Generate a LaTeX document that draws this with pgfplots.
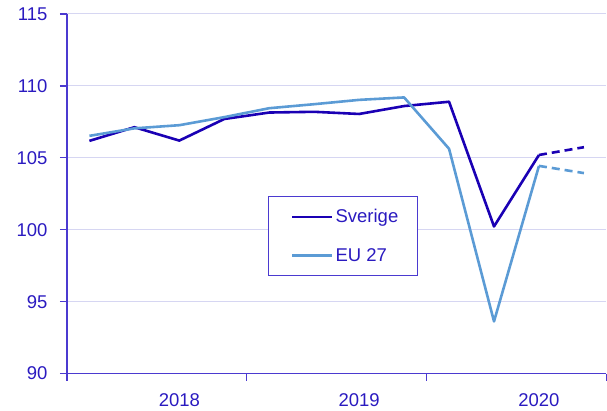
\documentclass[border=0pt]{standalone}
\usepackage{pgfplots}
\pgfplotsset{compat=1.18}
\usepackage{fontspec}
\setmainfont{Liberation Sans}
\usetikzlibrary{calc}

\definecolor{sverige}{HTML}{1A00B4}
\definecolor{eu}{HTML}{5B9BD5}
\definecolor{axc}{HTML}{4B3AD0}
\definecolor{txt}{HTML}{2A1AC0}
\definecolor{gridc}{HTML}{D6D6F2}

\begin{document}
\begin{tikzpicture}
\begin{axis}[name=ax,
  scale only axis, width=540bp, height=360bp,
  font=\fontsize{18.5bp}{22bp}\selectfont,
  /pgf/number format/assume math mode=true,
  xmin=0, xmax=12, ymin=90, ymax=115,
  ytick={90,95,...,115},
  xtick={0,4,8,12},
  xticklabels={},
  extra x ticks={2.5,6.5,10.5},
  extra x tick labels={2018,2019,2020},
  extra x tick style={tick style={draw=none}},
  axis lines*=left,
  axis line style={axc, line width=1.2bp},
  tick style={axc, line width=1.2bp},
  tick align=outside,
  major tick length=7bp,
  ymajorgrids, grid style={gridc, line width=1bp},
  ticklabel style={txt},
  yticklabel style={xshift=-9bp},
  xticklabel style={yshift=-9bp},
  every axis plot/.append style={line width=2.6bp, line join=round},
  legend style={at={(0.372,0.494)}, anchor=north west, draw=axc, line width=1bp,
    text=txt, inner xsep=17bp, inner ysep=11bp, row sep=20bp,
    font=\fontsize{18.5bp}{22bp}\selectfont},
  legend cell align=left,
  legend image code/.code={\path (0bp,0bp); \draw[#1, line width=2.6bp] (6bp,0bp) -- (46bp,0bp);},
]
\addplot[sverige] coordinates {(0.5,106.18) (1.5,107.13) (2.5,106.2) (3.5,107.7) (4.5,108.15) (5.5,108.2) (6.5,108.05) (7.5,108.6) (8.5,108.9) (9.5,100.23) (10.5,105.2)};
\addlegendentry{Sverige}
\addplot[eu] coordinates {(0.5,106.53) (1.5,107.05) (2.5,107.27) (3.5,107.83) (4.5,108.45) (5.5,108.73) (6.5,109.03) (7.5,109.2) (8.5,105.63) (9.5,93.63) (10.5,104.44)};
\addlegendentry{EU 27}
\addplot[sverige, dash pattern=on 8bp off 5bp, forget plot] coordinates {(10.5,105.2) (11.5,105.74)};
\addplot[eu, dash pattern=on 8bp off 5bp, forget plot] coordinates {(10.5,104.44) (11.5,103.94)};
\end{axis}
\pgfresetboundingbox
\path ($(ax.south west)+(-67bp,-37bp)$) rectangle ($(ax.north east)+(0.6bp,14bp)$);
\end{tikzpicture}
\end{document}
